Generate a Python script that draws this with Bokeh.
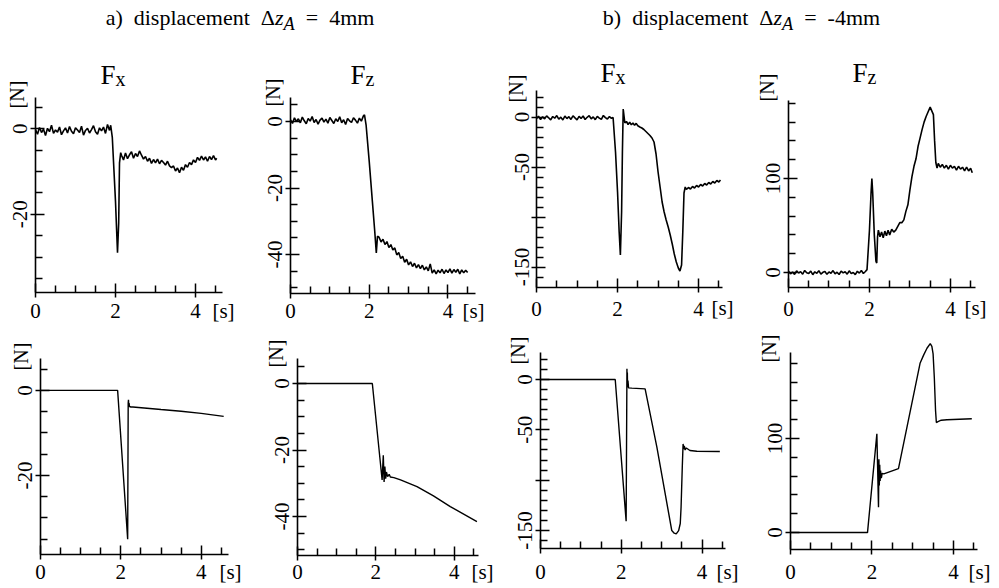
import numpy as np
from bokeh.plotting import figure
from bokeh.layouts import column, row
from bokeh.models import FixedTicker, Label, Div, Range1d
from bokeh.embed import file_html
from bokeh.resources import INLINE

FONT = "Liberation Serif"

# ---------------- data ----------------
T_PRE = [0.00, 0.05, 0.10, 0.15, 0.20, 0.25, 0.30, 0.35, 0.40, 0.45,
         0.50, 0.55, 0.60, 0.65, 0.70, 0.75, 0.80, 0.85, 0.90, 0.95,
         1.00, 1.05, 1.10, 1.15, 1.20, 1.25, 1.30, 1.35, 1.40, 1.45,
         1.50, 1.55, 1.60, 1.65, 1.70, 1.75, 1.80, 1.85]

# a) measured Fx
A_FX_PRE = [-0.2, -1.3, 0.3, -0.9, -0.1, -1.6, 0.1, -0.7, 0.8, -1.1,
            -0.3, -0.8, 0.4, -1.4, -0.5, 0.2, -1.0, 0.5, -0.6, -1.2,
            0.2, -0.3, -0.9, 0.6, -1.5, -0.4, 0.1, -1.0, -0.2, 0.7,
            -0.7, -1.3, 0.2, -0.5, 0.4, -1.1, 1.0, -0.4]
A_FX_T = [1.88, 1.92, 2.00, 2.05, 2.08, 2.10, 2.13,
          2.15, 2.20, 2.25, 2.30, 2.35, 2.40, 2.45, 2.50, 2.55, 2.60,
          2.65, 2.70, 2.75, 2.80, 2.85, 2.90, 2.95, 3.00, 3.05, 3.10,
          3.15, 3.20, 3.25, 3.30, 3.35, 3.40, 3.45, 3.50, 3.55, 3.60,
          3.65, 3.70, 3.75, 3.80, 3.85, 3.90, 3.95, 4.00, 4.05, 4.10,
          4.15, 4.20, 4.25, 4.30, 4.35, 4.40, 4.45, 4.50, 4.53]
A_FX_V = [0.8, -2.0, -17.0, -29.0, -22.0, -8.0, -5.6,
          -6.2, -7.3, -5.7, -7.0, -6.1, -5.4, -6.9, -5.8, -6.5, -5.2,
          -6.2, -7.1, -6.5, -7.6, -6.9, -8.1, -7.2, -8.0, -7.1, -8.2,
          -7.4, -7.9, -8.5, -7.6, -8.7, -9.1, -8.7, -9.9, -9.2, -10.3,
          -9.0, -9.7, -8.4, -9.0, -7.9, -8.4, -7.3, -7.9, -6.7, -7.4,
          -6.4, -7.3, -6.6, -7.6, -6.5, -7.2, -6.3, -7.3, -6.9]

# a) measured Fz
A_FZ_PRE = [0.5, -0.6, 1.1, 0.0, 0.8, -0.4, 1.3, 0.2, -0.7, 0.9,
            0.1, 1.5, -0.3, 0.6, -0.8, 0.4, 1.0, -0.2, 0.7, -0.5,
            1.2, 0.3, -0.6, 0.8, 0.0, 1.4, -0.4, 0.5, -0.9, 0.9,
            0.2, -0.3, 1.1, 0.4, -0.5, 1.0, 0.1, 1.6]
A_FZ_T = [1.88, 1.92, 2.00, 2.08, 2.14, 2.18, 2.21,
          2.25, 2.30, 2.35, 2.40, 2.45, 2.50, 2.55, 2.60, 2.65, 2.70,
          2.75, 2.80, 2.85, 2.90, 2.95, 3.00, 3.05, 3.10, 3.15, 3.20,
          3.25, 3.30, 3.35, 3.40, 3.45, 3.50, 3.55, 3.60, 3.65, 3.70,
          3.75, 3.80, 3.85, 3.90, 3.95, 4.00, 4.05, 4.10, 4.15, 4.20,
          4.25, 4.30, 4.35, 4.40, 4.45, 4.50]
A_FZ_V = [2.0, -1.0, -12.0, -24.0, -33.0, -39.5, -34.5,
          -34.8, -36.2, -35.4, -37.0, -36.1, -37.9, -37.0, -38.6, -38.0, -40.1,
          -39.4, -41.2, -40.5, -42.3, -41.4, -43.1, -42.2, -43.6, -42.6, -44.0,
          -43.0, -44.2, -43.2, -44.6, -43.7, -44.9, -42.8, -45.6, -44.6, -45.8,
          -44.7, -45.5, -44.4, -45.7, -44.6, -45.4, -44.3, -45.6, -44.5, -45.3,
          -44.4, -45.8, -44.6, -45.5, -44.7, -45.4]

# b) measured Fx
B_FX_PRE = [-1.5, 0.8, -2.6, 0.2, -1.9, 1.1, -0.8, -2.9, 0.5, -1.2,
            1.4, -2.2, -0.1, -3.0, 0.9, -1.6, 0.3, -2.4, 1.2, -0.9,
            -2.8, 0.6, -1.4, 1.0, -2.5, -0.3, 1.3, -1.8, 0.1, -2.7,
            0.7, -1.1, -2.3, 1.5, -0.6, -2.0, 0.4, -1.3]
B_FX_T = [1.89, 1.95, 2.00, 2.04, 2.07, 2.10, 2.12, 2.14, 2.16, 2.18,
          2.22, 2.26, 2.30, 2.34, 2.38, 2.42, 2.46, 2.50,
          2.55, 2.60, 2.65, 2.70, 2.75, 2.80, 2.85, 2.90, 2.95, 3.00,
          3.05, 3.10, 3.15, 3.20, 3.25, 3.30, 3.35, 3.40, 3.45, 3.50,
          3.54, 3.58, 3.61, 3.64, 3.67,
          3.70, 3.75, 3.80, 3.85, 3.90, 3.95, 4.00, 4.05, 4.10, 4.15,
          4.20, 4.25, 4.30, 4.35, 4.40, 4.45, 4.50, 4.54]
B_FX_V = [-0.5, -35, -75, -115, -138, -95, -35, 8, 1, -6,
          -4.5, -7.5, -5.2, -7.8, -6.0, -8.2, -6.4, -8.8,
          -10.0, -11.0, -12.5, -14.5, -16.5, -18.5, -21.0, -25.0, -37.0, -55.0,
          -70.0, -85.0, -95.0, -103.0, -110.0, -118.0, -127.0, -137.0, -145.0, -151.0,
          -154.0, -148.0, -115.0, -76.0, -70.0,
          -72.5, -70.5, -72.0, -69.5, -71.0, -68.5, -70.0, -67.5, -69.0, -66.5,
          -68.0, -65.5, -67.0, -64.5, -66.0, -63.5, -65.0, -63.0]

# b) measured Fz
B_FZ_PRE = [1.2, -1.5, 0.4, -2.1, 1.8, -0.6, 0.9, -1.9, 2.2, -0.3,
            -1.2, 1.5, -2.4, 0.7, -0.9, 1.9, -1.7, 0.2, 1.1, -2.0,
            0.6, -0.8, 2.0, -1.4, 0.3, -2.2, 1.4, -0.5, 0.8, -1.8,
            1.7, -1.0, 0.0, -2.3, 1.3, -0.7, 2.1, -1.1]
B_FZ_T = [1.90, 1.94, 2.00, 2.04, 2.06, 2.08, 2.12, 2.16, 2.18, 2.20,
          2.22, 2.26, 2.30, 2.34, 2.38, 2.42, 2.46, 2.50,
          2.55, 2.60, 2.65, 2.70, 2.75, 2.80, 2.85, 2.90, 2.95, 3.00,
          3.05, 3.10, 3.15, 3.20, 3.25, 3.30, 3.35, 3.40, 3.45, 3.50,
          3.54, 3.58, 3.61, 3.64, 3.67,
          3.70, 3.75, 3.80, 3.85, 3.90, 3.95, 4.00, 4.05, 4.10, 4.15,
          4.20, 4.25, 4.30, 4.35, 4.40, 4.45, 4.50, 4.54]
B_FZ_V = [1.0, 3.0, 45, 85, 100, 85, 40, 12, 10, 38,
          45, 38, 43, 37, 44, 39, 45, 40,
          46, 43, 45, 49, 53, 53, 56, 65, 72, 88,
          102, 113, 121, 134, 143, 152, 160, 166, 171, 176,
          172, 168, 140, 117, 111,
          116, 112, 115, 111, 114, 110, 114, 111, 113, 109,
          113, 110, 112, 108, 112, 108, 111, 106]

# simulated responses (bottom row)
SA_FX_T = [0.0, 1.92, 2.17, 2.183, 2.19, 2.197, 2.205, 2.215, 2.25, 2.30, 3.0, 3.5, 4.0, 4.56]
SA_FX_V = [0.0, 0.0, -35.0, -3.0, -2.2, -3.6, -3.0, -3.8, -3.9, -3.9, -4.5, -4.9, -5.4, -6.1]

SA_FZ_T = [0.0, 1.91, 2.16, 2.19, 2.21, 2.23, 2.25, 2.27, 2.30, 2.34, 2.37, 2.46, 2.63, 3.05, 3.47, 3.90, 4.58]
SA_FZ_V = [0.0, 0.0, -29.0, -21.6, -29.6, -25.0, -28.6, -26.6, -28.0, -27.3, -28.1, -28.3, -29.0, -31.0, -33.8, -37.0, -41.5]

SB_FX_T = [0.0, 1.85, 2.12, 2.14, 2.145, 2.15, 2.155, 2.165, 2.18, 2.26,
           2.59, 2.88, 3.25, 3.31, 3.36, 3.42, 3.46, 3.48, 3.51, 3.53,
           3.545, 3.56, 3.58, 3.61, 3.70, 3.87, 4.44]
SB_FX_V = [0.0, 0.0, -140.7, 10.6, -4.3, 7.0, -7.6, -1.0, -8.3, -8.6,
           -9.3, -67.0, -150.0, -152.6, -153.3, -150.0, -143.0, -127.0, -87.0, -64.0,
           -69.0, -66.0, -70.0, -68.0, -70.5, -71.2, -71.5]

SB_FZ_T = [0.0, 1.89, 2.12, 2.16, 2.17, 2.18, 2.19, 2.20, 2.21, 2.23,
           2.25, 2.29, 2.65, 3.18, 3.27, 3.35, 3.43, 3.47, 3.50, 3.53,
           3.56, 3.58, 3.62, 3.70, 3.84, 4.45]
SB_FZ_V = [0.0, 0.0, 105.0, 27.0, 78.0, 50.0, 72.0, 55.0, 66.0, 58.0,
           63.0, 62.5, 68.0, 180.0, 189.0, 196.0, 201.0, 198.0, 190.0, 165.0,
           130.0, 117.0, 118.0, 119.5, 120.0, 121.0]

# ticks
X_MAJOR = [0, 2, 4]
X_MINOR = [0.5, 1, 1.5, 2.5, 3, 3.5, 4.5]
YA_MAJOR = [0, -20]
YA_MINOR = [5, -5, -10, -15, -25, -30, -35]
Y20_MAJOR = [0, -20, -40]
Y20_MINOR = [5, -5, -10, -15, -25, -30, -35, -45, -50]
Y50_MAJOR = [0, -50, -100, -150]
Y50_MINOR = [20, 10, -10, -20, -30, -40, -60, -70, -80, -90, -110, -120, -130, -140, -160]
Y100_MAJOR = [0, 100]
Y100_MINOR = [20, 40, 60, 80, 120, 140, 160, 180]


def series(tp, vp, tq, vq):
    n1 = min(len(tp), len(vp))
    n2 = min(len(tq), len(vq))
    return list(tp[:n1]) + list(tq[:n2]), list(vp[:n1]) + list(vq[:n2])


def panel(t, v, box, frame, xe, yb, yt, ymaj, ymin, hide=(), title=None,
          tpos=(0, 0), npos=(0, 0), sdx=0, scy=18, xs=10, lw=1.4):
    X0, X1, Y0, Y1 = box
    FL, FR, FT, FB = frame
    ppx = (FR - FL) / xe
    ppy = (FB - FT) / (yt - yb)
    xr = (-(FL - X0) / ppx, xe + (X1 - FR) / ppx)
    yr = (yb - (Y1 - FB) / ppy, yt + (FT - Y0) / ppy)
    p = figure(width=X1 - X0, height=Y1 - Y0, x_range=Range1d(*xr), y_range=Range1d(*yr),
               output_backend="svg", toolbar_location=None,
               min_border_left=0, min_border_right=0, min_border_top=0, min_border_bottom=0)
    p.title.visible = False
    p.outline_line_color = None
    p.grid.visible = False
    p.background_fill_color = "white"
    p.border_fill_color = "white"
    p.line(t, v, line_color="black", line_width=lw)
    for ax in (p.xaxis[0], p.yaxis[0]):
        ax.axis_line_width = 1.6
        ax.axis_line_color = "black"
        ax.major_tick_line_width = 1.5
        ax.minor_tick_line_width = 1.5
        ax.major_tick_line_color = "black"
        ax.minor_tick_line_color = "black"
        ax.major_tick_in = 9
        ax.major_tick_out = 5
        ax.minor_tick_in = 7
        ax.minor_tick_out = 0
        ax.major_label_text_font = FONT
        ax.major_label_text_font_size = "21px"
        ax.major_label_text_color = "black"
    xa, ya = p.xaxis[0], p.yaxis[0]
    xa.fixed_location = yb
    xa.bounds = (0, xe)
    xa.ticker = FixedTicker(ticks=X_MAJOR, minor_ticks=X_MINOR)
    xa.major_label_overrides = {k: str(k) for k in X_MAJOR}
    xa.major_label_standoff = xs
    ya.fixed_location = 0
    ya.bounds = (yb, yt)
    ya.ticker = FixedTicker(ticks=ymaj, minor_ticks=ymin)
    ya.major_label_overrides = {k: ("" if k in hide else str(k)) for k in ymaj}
    ya.major_label_orientation = "vertical"
    ya.major_label_standoff = 3
    # unit labels
    p.add_layout(Label(x=0, y=yt, x_offset=npos[0], y_offset=npos[1], text="[N]",
                       angle=np.pi / 2, text_align="center", text_baseline="middle",
                       text_font=FONT, text_font_size="20px", text_color="black"))
    p.add_layout(Label(x=xe, y=yb, x_offset=sdx, y_offset=-scy, text="[s]",
                       text_align="center", text_baseline="middle",
                       text_font=FONT, text_font_size="21px", text_color="black"))
    if title:
        p.add_layout(Label(x=0, y=yt, x_offset=tpos[0], y_offset=tpos[1], text="F",
                           text_align="left", text_baseline="alphabetic",
                           text_font=FONT, text_font_size="27px", text_color="black"))
        p.add_layout(Label(x=0, y=yt, x_offset=tpos[0] + 15, y_offset=tpos[1] - 4, text=title,
                           text_align="left", text_baseline="alphabetic",
                           text_font=FONT, text_font_size="20px", text_color="black"))
    return p


t1, v1 = series(T_PRE, A_FX_PRE, A_FX_T, A_FX_V)
t2, v2 = series(T_PRE, A_FZ_PRE, A_FZ_T, A_FZ_V)
t3, v3 = series(T_PRE, B_FX_PRE, B_FX_T, B_FX_V)
t4, v4 = series(T_PRE, B_FZ_PRE, B_FZ_T, B_FZ_V)

R1 = (44, 326)
R2 = (326, 588)
p1 = panel(t1, v1, (0, 250) + R1, (35, 222, 97, 292), 4.675, -38.3, 7.3, YA_MAJOR, YA_MINOR,
           title="x", tpos=(65, 23), npos=(-19, 3), sdx=1, scy=18, xs=6, lw=1.6)
p2 = panel(t2, v2, (250, 496) + R1, (290, 475, 97, 293), 4.70, -51.7, 7.2, Y20_MAJOR, Y20_MINOR,
           title="z", tpos=(60, 23), npos=(-18, 5), sdx=-2, scy=17, xs=5, lw=1.6)
p3 = panel(t3, v3, (496, 748) + R1, (536, 722, 90, 287), 4.59, -170.5, 26.5, Y50_MAJOR, Y50_MINOR,
           hide=(-100,), title="x", tpos=(64, 18), npos=(-21, 2), sdx=0, scy=20, xs=9, lw=1.6)
p4 = panel(t4, v4, (748, 999) + R1, (788, 975, 100, 287), 4.62, -16, 183, Y100_MAJOR, Y100_MINOR,
           title="z", tpos=(64, 28), npos=(-22, 13), sdx=0, scy=20, xs=9, lw=1.6)

q1 = panel(SA_FX_T, SA_FX_V, (0, 257) + R2, (40, 228, 358, 554), 4.68, -38.6, 7.5, YA_MAJOR, YA_MINOR,
           npos=(-20, 2), sdx=2, scy=17, xs=5)
q2 = panel(SA_FZ_T, SA_FZ_V, (257, 500) + R2, (297, 478, 358, 555), 4.62, -51.7, 7.5, Y20_MAJOR, Y20_MINOR,
           npos=(-22, 5), sdx=4, scy=16, xs=4)
q3 = panel(SB_FX_T, SB_FX_V, (500, 750) + R2, (540, 725, 352, 548), 4.58, -167.8, 26.8, Y50_MAJOR, Y50_MINOR,
           hide=(-100,), npos=(-23, 2), sdx=2, scy=23, xs=11)
q4 = panel(SB_FZ_T, SB_FZ_V, (750, 999) + R2, (790, 977, 352, 549), 4.59, -18, 191.5, Y100_MAJOR, Y100_MINOR,
           npos=(-22, 4), sdx=2, scy=22, xs=10)

HEAD_STYLE = ("font-family:'Liberation Serif',serif;font-size:22px;line-height:22px;"
              "text-align:center;color:black;white-space:nowrap;box-sizing:border-box;"
              "padding-top:7px;")
head_a = Div(text=f'<div style="{HEAD_STYLE}width:472px;padding-left:8px;">a)&nbsp; displacement&nbsp; '
                  f'&Delta;<i>z<sub>A</sub></i>&nbsp;&nbsp;=&nbsp;&nbsp;4mm</div>',
             width=472, height=44, margin=0)
head_b = Div(text=f'<div style="{HEAD_STYLE}width:527px;padding-left:12px;">b)&nbsp; displacement&nbsp; '
                  f'&Delta;<i>z<sub>A</sub></i>&nbsp;&nbsp;=&nbsp;&nbsp;-4mm</div>',
             width=527, height=44, margin=0)

layout = column(row(head_a, head_b, spacing=0),
                row(p1, p2, p3, p4, spacing=0),
                row(q1, q2, q3, q4, spacing=0), spacing=0)

with open("out.html", "w") as f:
    f.write(file_html(layout, INLINE, title="forces"))
